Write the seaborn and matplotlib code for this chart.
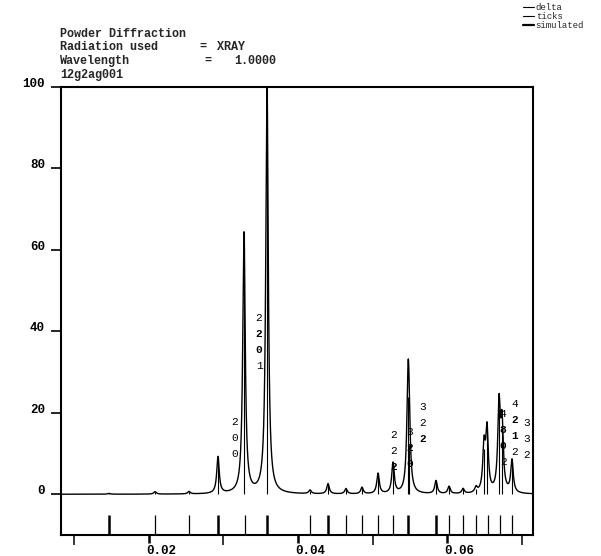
import numpy as np
import pandas as pd
import seaborn as sns
import matplotlib
matplotlib.use("Agg")
import matplotlib.pyplot as plt
from matplotlib.lines import Line2D
from matplotlib import transforms

# ---------------- data ----------------
# reflections: position and intensity (delta sticks / simulated profile)
refl_pos = [0.01463, 0.02081, 0.02537, 0.02926, 0.03275, 0.03584, 0.04161,
            0.04403, 0.04644, 0.04859, 0.05074, 0.05275, 0.05477, 0.05490,
            0.05852, 0.06027, 0.06215, 0.06389, 0.06497, 0.06537, 0.06698,
            0.06738, 0.06872]
refl_int = [0.2, 0.6, 0.6, 9.0, 64.0, 100.0, 0.9,
            2.5, 1.3, 1.6, 5.0, 7.5, 24.0, 12.0,
            3.2, 1.8, 1.2, 1.3, 11.0, 15.0, 21.0,
            16.0, 8.0]
peak_halfwidth = 0.0002

# reflection tick marks below the pattern
tick_pos = [0.01463, 0.02081, 0.02537, 0.02926, 0.03289, 0.03584, 0.04161,
            0.04403, 0.04644, 0.04859, 0.05074, 0.05275, 0.05477, 0.05852,
            0.06027, 0.06215, 0.06389, 0.06550, 0.06711, 0.06872]
tick_strong = [1, 0, 0, 1, 0, 1, 0, 1, 0, 0, 0, 0, 1, 1, 0, 0, 0, 0, 0, 0]

# hkl labels (digits written vertically)
hkl_x = [0.03154, 0.03477, 0.05289, 0.05503, 0.05678, 0.06752, 0.06913, 0.07074]
hkl_y = [17.7, 43.2, 14.5, 15.2, 21.4, 19.7, 22.1, 17.4]
hkl_txt = ["200", "2201", "222", "320", "322", "4802", "4212", "332"]
hkl_bold = ["000", "0110", "001", "011", "001", "0110", "0110", "000"]

x_major = [0.02, 0.04, 0.06]
x_major_labels = ["0.02", "0.04", "0.06"]
x_minor = [0.01, 0.03, 0.05, 0.07]
y_ticks = [0, 20, 40, 60, 80, 100]
y_tick_labels = ["0", "20", "40", "60", "80", "100"]

legend_labels = ["delta", "ticks", "simulated"]

# ---------------- figure ----------------
sns.set_theme(style="white")
plt.rcParams["font.family"] = ["Liberation Mono", "DejaVu Sans Mono"]

W, H = 601, 556
fig = plt.figure(figsize=(W / 100, H / 100), dpi=100)
ax = fig.add_axes([61 / W, 1 - 535 / H, (533 - 61) / W, (535 - 87) / H])

xlim = (0.00819, 0.07154)
xs = np.linspace(xlim[0], xlim[1], 8000)
ys = np.zeros_like(xs)
g2 = peak_halfwidth ** 2
for p, I in zip(refl_pos, refl_int):
    ys += I * g2 / ((xs - p) ** 2 + g2)
df = pd.DataFrame({"x": xs, "y": ys})

# delta sticks
ax.vlines(refl_pos, 0, refl_int, color="black", lw=0.8)
# simulated profile
sns.lineplot(data=df, x="x", y="y", ax=ax, color="black", lw=1.0,
             estimator=None, sort=False)
# reflection ticks
for p, s in zip(tick_pos, tick_strong):
    ax.vlines(p, -10, -5.2, color="black", lw=1.8 if s else 0.9)

# hkl labels
step = 3.9
for x, y, t, b in zip(hkl_x, hkl_y, hkl_txt, hkl_bold):
    for i, (ch, bb) in enumerate(zip(t, b)):
        ax.text(x, y - i * step, ch, ha="center", va="center", fontsize=8,
                fontweight="bold" if bb == "1" else "normal", color="black")

ax.set_xlim(*xlim)
ax.set_ylim(-10, 100)
ax.set_xlabel("")
ax.set_ylabel("")
for sp in ax.spines.values():
    sp.set_visible(True)
    sp.set_color("black")
    sp.set_linewidth(1.5)

ax.set_xticks(x_major)
ax.set_xticklabels(x_major_labels)
ax.set_xticks(x_minor, minor=True)
ax.set_yticks(y_ticks)
ax.set_yticklabels(y_tick_labels)
ax.tick_params(axis="x", which="major", direction="out", length=6, width=1.8,
               pad=1.5, labelsize=9, colors="black", bottom=True)
ax.tick_params(axis="x", which="minor", direction="out", length=7, width=1.3,
               bottom=True)
ax.tick_params(axis="y", which="major", direction="out", length=7, width=1.2,
               pad=4.5, labelsize=9, colors="black", left=True)
off = transforms.ScaledTranslation(-3 / 100, 0, fig.dpi_scale_trans)
for lab in ax.get_xticklabels():
    lab.set_ha("left")
    lab.set_fontweight("bold")
    lab.set_transform(lab.get_transform() + off)
for lab in ax.get_yticklabels():
    lab.set_va("baseline")
    lab.set_fontweight("bold")
ax.grid(False)

# header text (positions are baselines in pixels)
def ftext(px, py, s, **kw):
    fig.text(px / W, 1 - py / H, s, ha="left", va="baseline", fontsize=8.5,
             **kw)

ftext(60, 37, "Powder Diffraction", fontweight="bold")
ftext(60, 50, "Radiation used", fontweight="bold")
ftext(199, 50, "=", fontweight="bold")
ftext(217, 50, "XRAY", fontweight="heavy")
ftext(60, 64, "Wavelength", fontweight="bold")
ftext(204, 64, "=", fontweight="bold")
ftext(234, 64, "1.0000", fontweight="bold")
ftext(60, 78, "12g2ag001", fontweight="bold")

# legend
handles = [Line2D([], [], color="black", lw=0.8),
           Line2D([], [], color="black", lw=0.8),
           Line2D([], [], color="black", lw=1.6)]
fig.legend(handles, legend_labels, loc="upper left",
           bbox_to_anchor=(523 / W, 1 - 3 / H), frameon=False, fontsize=6.5,
           handlelength=1.2, handletextpad=0.2, labelspacing=0.0,
           borderpad=0, borderaxespad=0)

fig.savefig("out.png", dpi=100)
